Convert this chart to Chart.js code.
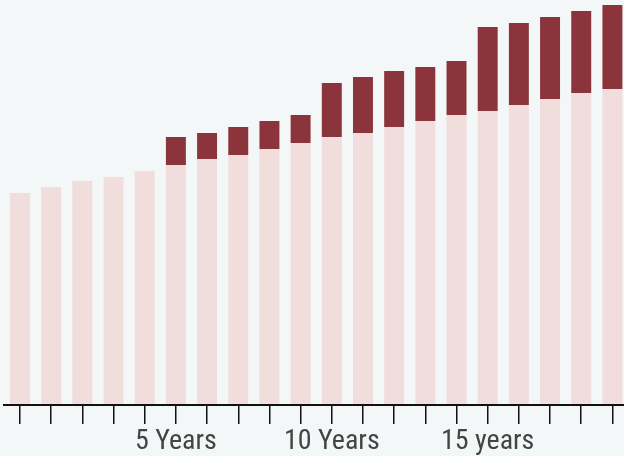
<!DOCTYPE html>
<html>
<head>
<meta charset="utf-8">
<script src="https://cdn.jsdelivr.net/npm/chart.js@4/dist/chart.umd.min.js"></script>
<style>
  html, body { margin: 0; padding: 0; background: #f4f7f8; overflow: hidden; }
  #wrap { position: absolute; left: 0; top: 0; width: 628px; height: 456px; }
</style>
</head>
<body>
<div id="wrap"><canvas id="myChart"></canvas></div>
<script>
// Data
const years = [1, 2, 3, 4, 5, 6, 7, 8, 9, 10, 11, 12, 13, 14, 15, 16, 17, 18, 19, 20];
const baseValues = [212, 218, 224, 228, 234, 240, 246, 250, 256, 262, 268, 272, 278, 284, 290, 294, 300, 306, 312, 316];
const extraValues = [0, 0, 0, 0, 0, 28, 26, 28, 28, 28, 54, 56, 56, 54, 54, 84, 82, 82, 82, 84];
const tickLabels = { 6: "5 Years", 11: "10 Years", 16: "15 years" };

const ctx = document.querySelector("#myChart");

new Chart(ctx, {
    type: "bar",
    data: {
        labels: years,
        datasets: [
            {
                data: baseValues,
                backgroundColor: "#f0dddc",
                barPercentage: 0.64,
                categoryPercentage: 1
            },
            {
                data: extraValues,
                backgroundColor: "#8b343c",
                barPercentage: 0.64,
                categoryPercentage: 1
            }
        ]
    },
    options: {
        responsive: true,
        maintainAspectRatio: false,
        animation: false,
        layout: { padding: { left: 4.4, right: 0, top: 0, bottom: 0 } },
        plugins: {
            legend: { display: false },
            tooltip: { enabled: false }
        },
        scales: {
            x: {
                stacked: true,
                afterFit: s => { s.height = 51; },
                border: { display: true, color: "#111", width: 2, z: 1 },
                grid: {
                    offset: false,
                    drawOnChartArea: false,
                    drawTicks: true,
                    tickLength: 19,
                    tickColor: "#111",
                    lineWidth: 1.5
                },
                ticks: {
                    autoSkip: false,
                    maxRotation: 0,
                    padding: 1,
                    color: "#444",
                    // semi-condensed only kicks in if the Roboto installed has a width axis
                    font: { family: "Roboto", size: 28, weight: "normal semi-condensed" },
                    callback: function (val) {
                        const label = this.getLabelForValue(val);
                        return tickLabels[label] || "";
                    }
                }
            },
            y: {
                stacked: true,
                display: false,
                min: 0,
                max: 405
            }
        }
    }
});
</script>
</body>
</html>
